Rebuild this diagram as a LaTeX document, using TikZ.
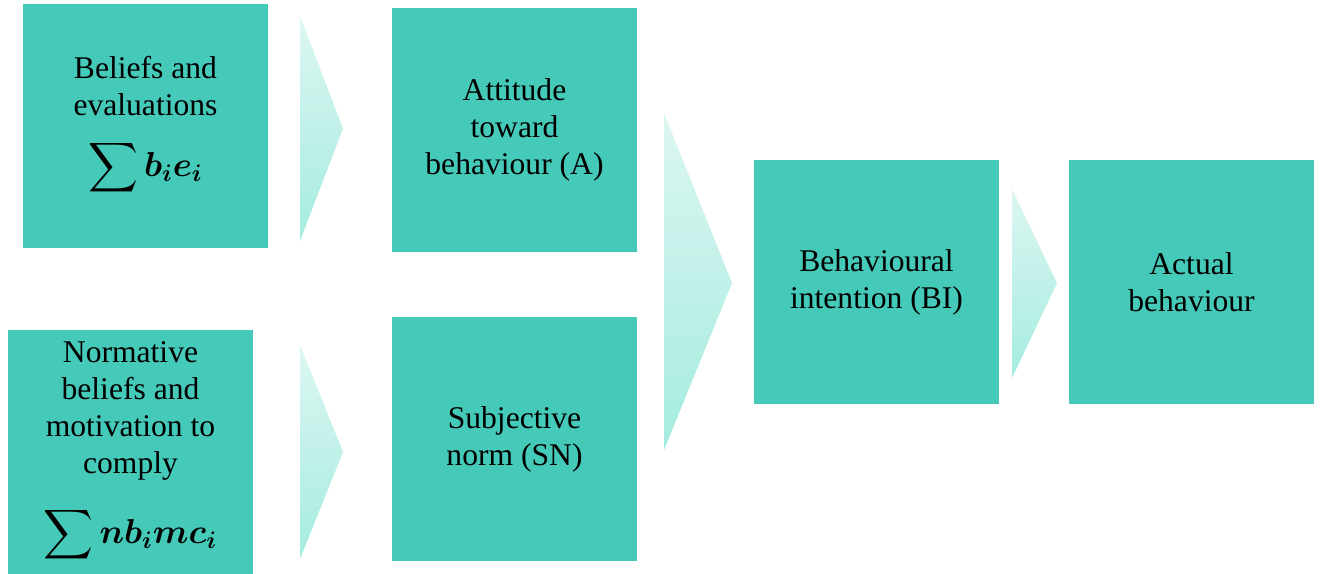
\documentclass[tikz,border=0pt]{standalone}
\usepackage{amsmath}
\usepackage{fontspec}
\setmainfont{Liberation Serif}

\definecolor{boxgreen}{HTML}{45C9B8}
\definecolor{chevtop}{HTML}{DDF6F2}
\definecolor{chevbot}{HTML}{A4ECDF}

\tikzset{
  box/.style={fill=boxgreen,minimum width=122.5pt,minimum height=122pt,
    inner sep=0pt,align=center,font=\fontsize{15.8pt}{18.5pt}\selectfont},
  chevron/.style={top color=chevtop,bottom color=chevbot,draw=none}
}

\newcommand{\bigsum}[1]{{\fontsize{18.5pt}{21pt}\selectfont$\displaystyle\sum\boldsymbol{#1}$}}

\begin{document}
\begin{tikzpicture}[x=0.5pt,y=-0.5pt]
  \useasboundingbox (0,0) rectangle (1321,573);

  % first column
  \node[box] (bel) at (145.5,126) {Beliefs and\\evaluations\\[12pt]\bigsum{b_ie_i}};
  \node[box] (nor) at (130.5,452) {Normative\\beliefs and\\motivation to\\comply\\[12pt]\bigsum{nb_imc_i}};

  % second column
  \node[box] (att) at (514.5,130) {Attitude\\toward\\behaviour (A)};
  \node[box] (sub) at (514.5,439) {Subjective\\norm (SN)};

  % intention and behaviour
  \node[box] (bi) at (876.5,282) {Behavioural\\intention (BI)};
  \node[box] (act) at (1191.5,282) {Actual\\behaviour};

  % chevrons between the columns
  \shade[chevron] (300,16) -- (343,128.5) -- (300,241) -- cycle;
  \shade[chevron] (300,345) -- (343,452) -- (300,559) -- cycle;
  \shade[chevron] (664,113) -- (732,283) -- (664,450) -- cycle;
  \shade[chevron] (1012,189) -- (1057,283) -- (1012,378) -- cycle;
\end{tikzpicture}
\end{document}
